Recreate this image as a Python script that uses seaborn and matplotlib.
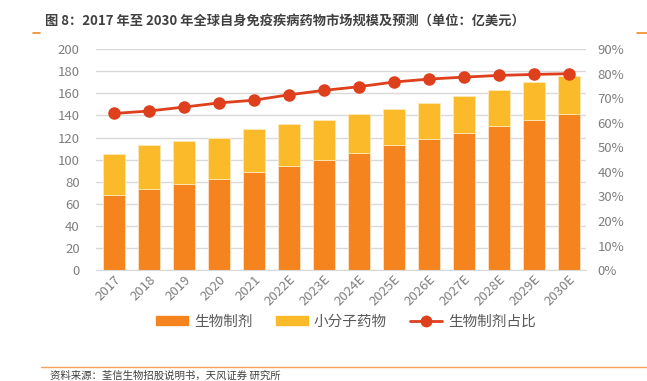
import matplotlib
matplotlib.use("Agg")
import matplotlib.pyplot as plt
import seaborn as sns
import numpy as np
from matplotlib.patches import Patch
from matplotlib.lines import Line2D

years = ["2017", "2018", "2019", "2020", "2021", "2022E", "2023E", "2024E",
         "2025E", "2026E", "2027E", "2028E", "2029E", "2030E"]
biologics = [68.1, 73.6, 78.1, 82.6, 88.9, 94.4, 100.1, 106.1, 113.0, 118.5, 124.2, 130.5, 136.0, 141.4]
small_molecule = [37.1, 39.4, 38.6, 37.1, 38.6, 37.6, 36.2, 35.6, 32.9, 32.8, 33.7, 32.9, 34.0, 34.1]
bio_share = [63.8, 64.8, 66.4, 68.1, 69.2, 71.4, 73.2, 74.7, 76.6, 77.8, 78.6, 79.3, 79.7, 80.0]

sns.set_style("white")
plt.rcParams["font.family"] = ["Noto Sans CJK SC", "DejaVu Sans"]

C_BIO = "#F5841F"
C_SM = "#FBBA2A"
C_LINE = "#DE3F1C"
GRAY = "#7f7f7f"

fig = plt.figure(figsize=(6.47, 3.81), dpi=100)
ax = fig.add_axes([0.149, 0.291, 0.757, 0.580])

sns.barplot(x=years, y=biologics, color=C_BIO, width=0.63, ax=ax,
            edgecolor="#fde3c8", linewidth=0.6, saturation=1)
sns.barplot(x=years, y=small_molecule, bottom=biologics, color=C_SM, width=0.63, ax=ax,
            edgecolor="#fde9b8", linewidth=0.6, saturation=1)

ax.set_ylim(0, 200)
ax.set_yticks(np.arange(0, 201, 20))
ax.yaxis.grid(True, color="#d9d9d9", linewidth=1)
ax.set_axisbelow(True)
for s in ["top", "right", "left"]:
    ax.spines[s].set_visible(False)
ax.spines["bottom"].set_color("#d9d9d9")
ax.tick_params(axis="y", colors=GRAY, labelsize=9.5, length=0, pad=12)
ax.tick_params(axis="x", colors=GRAY, labelsize=9.5, length=0, pad=2)
plt.setp(ax.get_xticklabels(), rotation=45, ha="right", rotation_mode="anchor")
ax.set_xlim(-0.5, len(years) - 0.5)

ax2 = ax.twinx()
sns.pointplot(x=years, y=bio_share, color=C_LINE, markers="o", linestyles="-",
              ax=ax2, markersize=7.5, linewidth=2)
ax2.set_ylim(0, 90)
ax2.set_yticks(np.arange(0, 91, 10))
ax2.set_yticklabels([f"{v}%" for v in range(0, 91, 10)])
ax2.tick_params(axis="y", colors=GRAY, labelsize=9.5, length=0, pad=8)
for s in ["top", "right", "left", "bottom"]:
    ax2.spines[s].set_visible(False)
ax2.set_xlim(-0.5, len(years) - 0.5)
ax2.set_ylabel("")
ax.set_ylabel("")

handles = [Patch(color=C_BIO), Patch(color=C_SM),
           Line2D([0], [0], color=C_LINE, lw=2, marker="o", markersize=7.5)]
labels = ["生物制剂", "小分子药物", "生物制剂占比"]
fig.legend(handles, labels, loc="center", bbox_to_anchor=(0.535, 0.155), ncol=3,
           frameon=False, fontsize=10.5, handlelength=2.2, handleheight=0.6,
           handletextpad=0.4, columnspacing=1.6, labelcolor="#595959")

fig.text(0.07, 0.945, "图 8：2017 年至 2030 年全球自身免疫疾病药物市场规模及预测（单位：亿美元）",
         fontsize=9.5, fontweight="bold", color="#404040", va="center", ha="left")
fig.add_artist(Line2D([0.051, 0.062], [0.914, 0.914], color="#F08A24", lw=1.2))
fig.add_artist(Line2D([0.985, 1.0], [0.914, 0.914], color="#F08A24", lw=1.2))
fig.add_artist(Line2D([0.063, 1.0], [0.037, 0.037], color="#F5A05A", lw=1.0))
fig.text(0.077, 0.013, "资料来源：荃信生物招股说明书，天风证券 研究所", fontsize=7.5,
         color="#404040", va="center", ha="left")

fig.savefig("out.png", dpi=100)
